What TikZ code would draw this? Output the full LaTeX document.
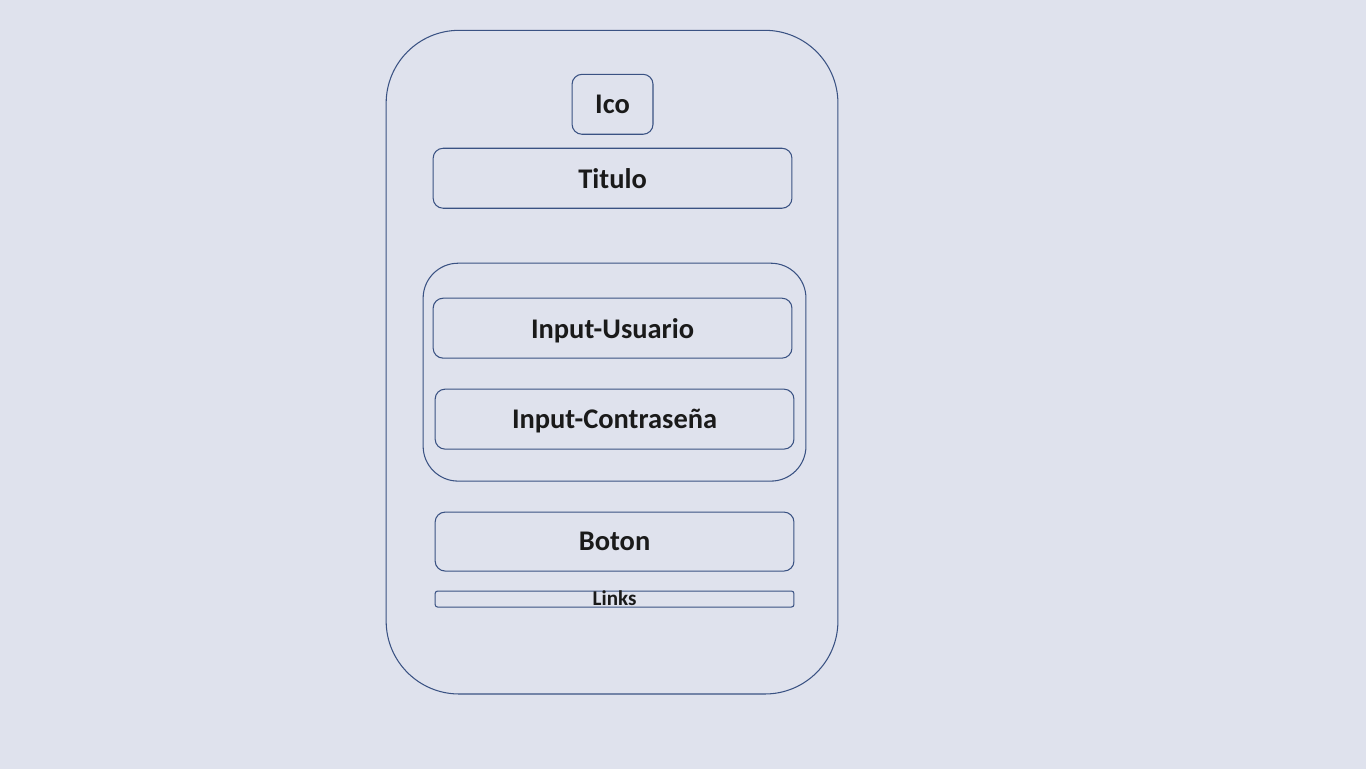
\documentclass[tikz,border=0pt]{standalone}
\usepackage{fontspec}
\setmainfont{Carlito}
\usepackage{xcolor}
\usepackage{tikz}
\usetikzlibrary{positioning}
\definecolor{fondo}{HTML}{DFE2ED}
\definecolor{borde}{HTML}{3A5283}
\definecolor{texto}{HTML}{1A1A1A}
\tikzset{
  caja/.style={draw=borde,line width=0.6pt,rounded corners=0.2cm,inner sep=0pt,text depth=0pt,
    text=texto,font=\fontsize{16.2}{18}\selectfont\bfseries,minimum height=1.2cm},
}
\begin{document}
\begin{tikzpicture}
\draw[fill=fondo,fondo](0,0) rectangle (27.32,15.36);
\node[caja,rounded corners=1.46cm,minimum width=9.04cm,minimum height=13.28cm] (pantalla) at (12.24,8.12) {};
\node[caja,minimum width=1.62cm] (ico) at (12.25,13.28) {Ico};
\node[caja,minimum width=7.18cm] (titulo) at (12.25,11.8) {Titulo};
\node[caja,rounded corners=0.7cm,minimum width=7.66cm,minimum height=4.36cm] (grupo) at (12.29,7.92) {};
\node[caja,minimum width=7.18cm] (usuario) at (12.25,8.8) {Input-Usuario};
\node[caja,minimum width=7.18cm] (clave) at (12.29,6.98) {Input-Contraseña};
\node[caja,minimum width=7.18cm,minimum height=1.18cm] (boton) at (12.29,4.53) {Boton};
\node[caja,rounded corners=0.05cm,minimum width=7.18cm,minimum height=0.32cm,
  text height=0.25cm,font=\fontsize{12}{14}\selectfont\bfseries] (links) at (12.29,3.38) {Links};
\end{tikzpicture}
\end{document}
